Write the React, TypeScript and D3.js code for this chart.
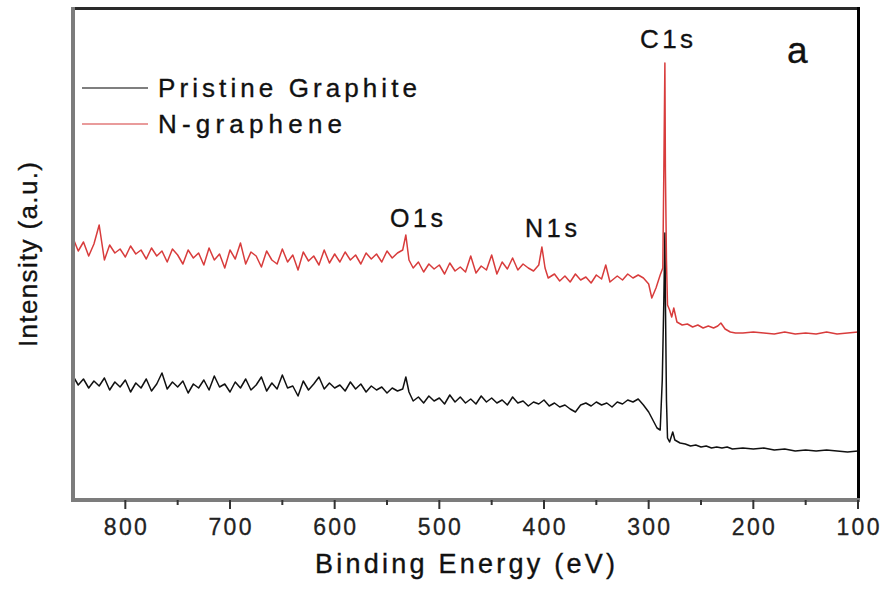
import React from 'react';
import * as d3 from 'd3';

// XPS survey spectra, intensity in arbitrary units
const pristineGraphite: [number, number][] = [
  [850, 124], [845, 115], [840, 121], [835, 112], [830, 119], [825, 114], [820, 122], [815, 110],
  [810, 118], [805, 113], [800, 120], [795, 108], [790, 117], [785, 112], [780, 121], [775, 109],
  [770, 116], [765, 127], [760, 111], [755, 118], [750, 113], [745, 119], [740, 107], [735, 116],
  [730, 112], [725, 120], [720, 110], [715, 124], [710, 113], [705, 116], [700, 108], [695, 118],
  [690, 112], [685, 121], [680, 110], [675, 115], [670, 123], [665, 109], [660, 117], [655, 111],
  [650, 125], [645, 112], [640, 114], [635, 104], [630, 119], [625, 110], [620, 116], [615, 123],
  [610, 111], [605, 117], [600, 112], [595, 115], [590, 109], [585, 118], [580, 111], [575, 116],
  [570, 108], [565, 114], [560, 110], [555, 113], [550, 107], [545, 112], [540, 109], [535, 111],
  [532, 123], [529, 108], [525, 99], [520, 103], [515, 97], [510, 104], [505, 99], [500, 102],
  [495, 96], [490, 105], [485, 98], [480, 103], [475, 97], [470, 101], [465, 96], [460, 104],
  [455, 98], [450, 102], [445, 97], [440, 100], [435, 95], [430, 103], [425, 97], [420, 99],
  [415, 94], [410, 98], [405, 96], [400, 100], [395, 94], [390, 97], [385, 93], [380, 95],
  [375, 91], [370, 88], [365, 95], [360, 97], [355, 94], [350, 98], [345, 95], [340, 97],
  [335, 93], [330, 98], [325, 96], [320, 100], [315, 98], [310, 101], [305, 95], [300, 88],
  [296, 80], [292, 72], [289, 70], [287, 120], [285.5, 200], [284.5, 267], [284, 200], [283, 100],
  [282, 62], [280, 58], [277, 68], [275, 60], [270, 57], [265, 56], [260, 54], [255, 55],
  [250, 53], [245, 54], [240, 52], [235, 53], [230, 52], [225, 53], [220, 51], [210, 52],
  [200, 51], [190, 52], [180, 50], [170, 51], [160, 49], [150, 50], [140, 49], [130, 50],
  [120, 49], [110, 48], [100, 49],
];

const nGraphene: [number, number][] = [
  [850, 262], [845, 249], [840, 258], [835, 244], [830, 256], [825, 275], [820, 240], [815, 255],
  [810, 247], [805, 251], [800, 243], [795, 254], [790, 246], [785, 250], [780, 241], [775, 252],
  [770, 244], [765, 249], [760, 238], [755, 251], [750, 245], [745, 236], [740, 250], [735, 242],
  [730, 247], [725, 235], [720, 252], [715, 240], [710, 246], [705, 232], [700, 250], [695, 241],
  [690, 257], [685, 236], [680, 248], [675, 244], [670, 233], [665, 249], [660, 240], [655, 236],
  [650, 251], [645, 238], [640, 245], [635, 230], [630, 248], [625, 239], [620, 244], [615, 235],
  [610, 250], [605, 237], [600, 246], [595, 238], [590, 248], [585, 240], [580, 245], [575, 236],
  [570, 247], [565, 241], [560, 246], [555, 238], [550, 249], [545, 242], [540, 247], [535, 250],
  [532, 265], [529, 240], [525, 232], [520, 238], [515, 228], [510, 236], [505, 231], [500, 235],
  [495, 226], [490, 237], [485, 229], [480, 233], [475, 228], [470, 244], [465, 227], [460, 234],
  [455, 230], [450, 245], [445, 226], [440, 238], [435, 231], [430, 242], [425, 230], [420, 236],
  [415, 232], [410, 229], [405, 235], [402, 253], [399, 232], [396, 222], [390, 226], [385, 219],
  [380, 224], [375, 218], [370, 226], [365, 220], [360, 223], [355, 217], [350, 225], [345, 221],
  [341, 235], [337, 218], [330, 224], [325, 220], [320, 226], [315, 222], [310, 225], [305, 222],
  [300, 216], [297, 202], [293, 212], [289, 225], [286.5, 232], [285.5, 330], [284.5, 437], [284, 330],
  [283, 240], [282, 195], [280, 190], [278, 183], [276, 192], [273, 178], [268, 175], [263, 176],
  [258, 173], [253, 175], [248, 172], [243, 174], [238, 172], [234, 174], [231, 177], [227, 171],
  [222, 168], [217, 167], [210, 167], [200, 168], [190, 167], [180, 166], [170, 168], [160, 166],
  [150, 167], [140, 166], [130, 168], [120, 166], [110, 167], [100, 168],
];

const majorTicks = [800, 700, 600, 500, 400, 300, 200, 100];
const minorTicks = [750, 650, 550, 450, 350, 250, 150];
const seriesNames = ['Pristine Graphite', 'N-graphene'];
const seriesColors = ['#111111', '#d83c3c'];

const font = '"Liberation Sans", Arial, sans-serif';
const ink = { fill: '#111', stroke: '#111', strokeWidth: 0.35 };

export default function App() {
  const x = d3.scaleLinear().domain([850, 100]).range([73, 858]);
  const y = d3.scaleLinear().domain([0, 492]).range([500, 8]);
  const line = d3.line<[number, number]>().x((d) => x(d[0])).y((d) => y(d[1]));

  return (
    <svg width={880} height={589} style={{ position: 'absolute', left: 0, top: 0, background: '#fff' }}>
      <rect width={880} height={589} fill="#fff" />

      {/* spectra: graphite first, N-graphene on top */}
      <path d={line(pristineGraphite) || ''} fill="none" stroke={seriesColors[0]} strokeWidth={1.5} strokeLinejoin="round" />
      <path d={line(nGraphene) || ''} fill="none" stroke={seriesColors[1]} strokeWidth={1.5} strokeLinejoin="round" />

      {/* frame */}
      <line x1={72} x2={860} y1={8.5} y2={8.5} stroke="#2a2a2a" strokeWidth={3} />
      <line x1={858.5} x2={858.5} y1={7} y2={501} stroke="#000" strokeWidth={3} />
      <line x1={73} x2={73} y1={7} y2={502} stroke="#7c7c7c" strokeWidth={4} />
      <line x1={71} x2={860} y1={500} y2={500} stroke="#7c7c7c" strokeWidth={4} />

      {/* x ticks */}
      {majorTicks.map((t) => (
        <g key={t}>
          <line x1={x(t)} x2={x(t)} y1={500} y2={509} stroke="#333" strokeWidth={2} />
          <text x={x(t)} y={535} textAnchor="middle" fontFamily={font} fontSize={23} fill="#222"
            stroke="#222" strokeWidth={0.3} textLength={43} lengthAdjust="spacing">{t}</text>
        </g>
      ))}
      {minorTicks.map((t) => (
        <line key={t} x1={x(t)} x2={x(t)} y1={500} y2={505} stroke="#333" strokeWidth={2} />
      ))}

      {/* axis titles */}
      <text x={315} y={573} fontFamily={font} fontSize={27} {...ink} textLength={300} lengthAdjust="spacing">
        Binding Energy (eV)
      </text>
      <text transform="translate(37,347) rotate(-90)" fontFamily={font} fontSize={26} {...ink}
        textLength={185} lengthAdjust="spacing">
        Intensity (a.u.)
      </text>

      {/* legend */}
      {seriesNames.map((name, i) => (
        <g key={name}>
          <line x1={82} x2={148} y1={88 + i * 36} y2={88 + i * 36}
            stroke={i === 0 ? '#555' : '#e27a7a'} strokeWidth={1.5} />
          <text x={158} y={97 + i * 36} fontFamily={font} fontSize={26} {...ink}
            textLength={i === 0 ? 259 : 184} lengthAdjust="spacing">{name}</text>
        </g>
      ))}

      {/* peak labels */}
      <text x={640} y={48} fontFamily={font} fontSize={26} {...ink} textLength={53} lengthAdjust="spacing">C1s</text>
      <text x={390} y={227} fontFamily={font} fontSize={25} {...ink} textLength={53} lengthAdjust="spacing">O1s</text>
      <text x={525} y={237} fontFamily={font} fontSize={25} {...ink} textLength={52} lengthAdjust="spacing">N1s</text>
      <text x={787} y={63} fontFamily={font} fontSize={37} {...ink}>a</text>
    </svg>
  );
}
